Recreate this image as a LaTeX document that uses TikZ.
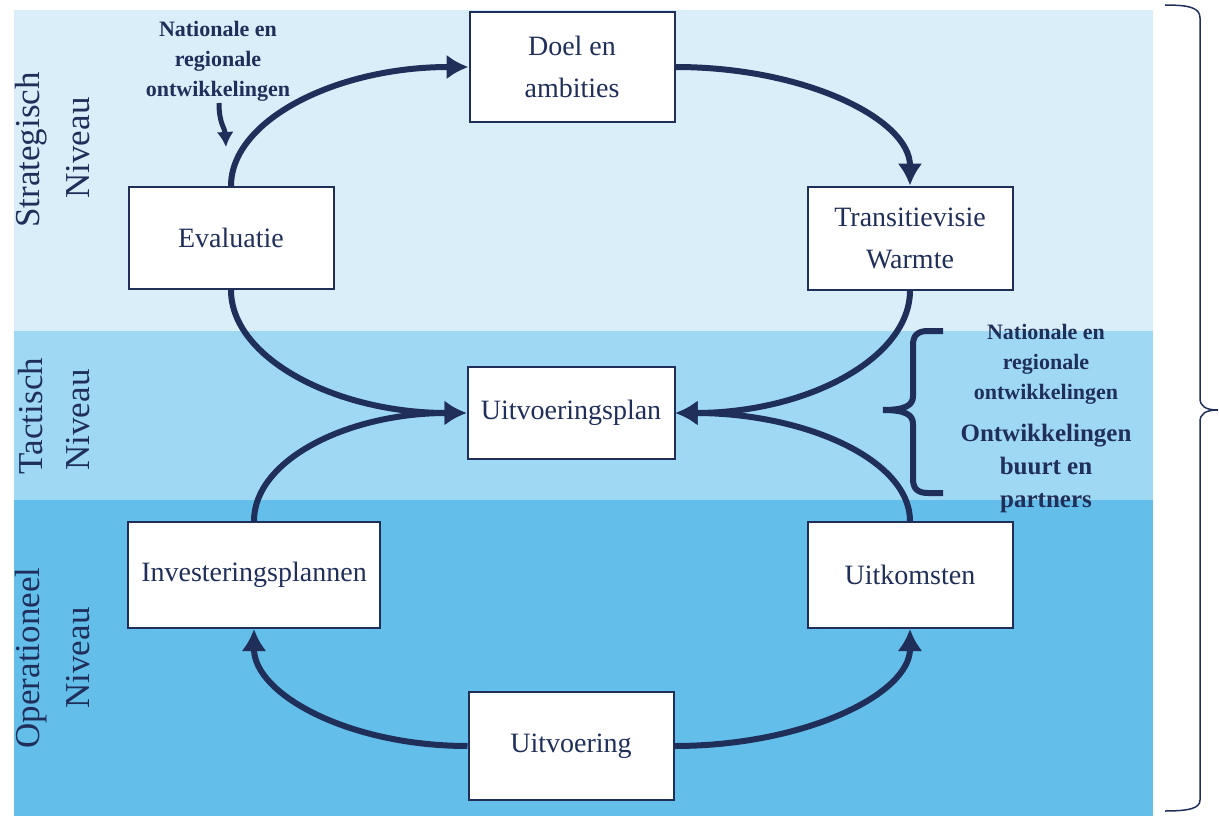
\documentclass[tikz,border=0pt]{standalone}
\usepackage{fontspec}
\setmainfont{Liberation Serif}
\usetikzlibrary{arrows.meta}
\definecolor{navy}{HTML}{1F2F5A}
\definecolor{stratblue}{HTML}{D9EEF9}
\definecolor{tactblue}{HTML}{9FD8F3}
\definecolor{operblue}{HTML}{63BEEA}
\tikzset{
  box/.style={draw=navy, line width=2pt, fill=white, text=navy, inner sep=0pt,
    minimum width=205pt, minimum height=104pt, align=center,
    font=\fontsize{28}{42}\selectfont},
  flow/.style={draw=navy, line width=6pt, -{Latex[length=22pt,width=25pt]}},
  level/.style={text=navy, rotate=90, font=\fontsize{35}{40}\selectfont},
  note/.style={text=navy, align=center, font=\bfseries\fontsize{22}{30}\selectfont},
}

\begin{document}
\begin{tikzpicture}[x=1pt,y=-1pt]
  %%%%% START %%%%%
  \useasboundingbox (0,0) rectangle (1219,816);

  % niveaus
  \fill[stratblue] (14,10) rectangle (1153,331);
  \fill[tactblue] (14,331) rectangle (1153,500);
  \fill[operblue] (14,500) rectangle (1153,816);

  \node[level] (stratA) at (31,150) {Strategisch};
  \node[level] (stratB) at (78,148) {Niveau};
  \node[level] (tactA) at (31,416) {Tactisch};
  \node[level] (tactB) at (78,420) {Niveau};
  \node[level] (operA) at (31,658) {Operationeel};
  \node[level] (operB) at (78,658) {Niveau};

  % blokken
  \node[box, minimum height=110pt] (doel) at (572,67) {Doel en\\ambities};
  \node[box, minimum height=103pt] (visie) at (910,238) {Transitievisie\\Warmte};
  \node[box, minimum height=102pt] (eval) at (231,238) {Evaluatie};
  \node[box, minimum width=207pt, minimum height=92pt] (plan) at (571,413) {Uitvoeringsplan};
  \node[box, minimum width=252pt, minimum height=106pt] (invest) at (254,575) {Investeringsplannen};
  \node[box, minimum height=106pt] (uitkomst) at (910,575) {Uitkomsten};
  \node[box, minimum height=108pt] (uitvoer) at (571,746) {Uitvoering};

  % cyclus
  \draw[flow] (eval.north) .. controls +(0,-66) and +(-132,0) .. (doel.west);
  \draw[flow] (doel.east) .. controls +(130,0) and +(0,-66) .. (visie.north);
  \draw[flow] (eval.south) .. controls +(0,68) and +(-131,0) .. (plan.west);
  \draw[flow] (visie.south) .. controls +(0,68) and +(131,0) .. (plan.east);
  \draw[flow] (invest.north) .. controls +(0,-61) and +(-119,0) .. (plan.west);
  \draw[flow] (uitkomst.north) .. controls +(0,-61) and +(130,0) .. (plan.east);
  \draw[flow] (uitvoer.west) .. controls +(-119,0) and +(0,65) .. (invest.south);
  \draw[flow] (uitvoer.east) .. controls +(130,0) and +(0,65) .. (uitkomst.south);

  % ontwikkelingen
  \node[note] (natTop) at (218,61) {Nationale en\\regionale\\ontwikkelingen};
  \coordinate (natTip) at (226,147);
  \draw[draw=navy, line width=5pt, -{Latex[length=15pt,width=17pt]}]
    (219,103) .. controls (219,124) and (225,128) .. (natTip);

  \node[note] (natRight) at (1046,364) {Nationale en\\regionale\\ontwikkelingen};
  \node[note, font=\bfseries\fontsize{25}{33}\selectfont] (buurt) at (1046,468)
    {Ontwikkelingen\\buurt en\\partners};

  \draw[navy, line width=6pt] (943,331) -- (928,331)
    .. controls (918,331) and (913,335) .. (913,345) -- (913,396)
    .. controls (913,405) and (906,410) .. (883,410)
    .. controls (906,410) and (913,415) .. (913,424) -- (913,479)
    .. controls (913,489) and (918,493) .. (928,493) -- (943,493);

  \draw[navy, line width=1.5pt] (1165,5) .. controls (1190,5) and (1200,8) .. (1200,18)
    -- (1200,398) .. controls (1200,406) and (1205,410) .. (1218,410)
    .. controls (1205,410) and (1200,414) .. (1200,422)
    -- (1200,800) .. controls (1200,808) and (1190,811) .. (1165,811);
  %%%%% END %%%%%
\end{tikzpicture}
\end{document}
